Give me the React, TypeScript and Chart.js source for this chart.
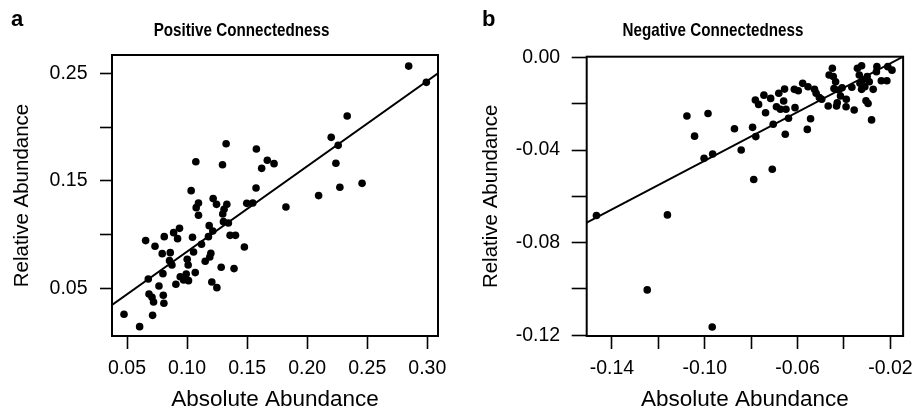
import React, { useEffect, useRef } from "react";
import { Chart, registerables } from "chart.js";

Chart.register(...registerables);

// ---------- Panel a: Positive Connectedness ----------
const posAbsolute = [
  0.2845, 0.2992, 0.2333, 0.22, 0.2258, 0.2239, 0.2272, 0.2457, 0.2095, 0.1823,
  0.1325, 0.1577, 0.1073, 0.1295, 0.1668, 0.1724, 0.1621, 0.1574, 0.1497, 0.1547,
  0.1034, 0.1217, 0.1245, 0.1095, 0.1076, 0.1095, 0.1331, 0.1308, 0.1297, 0.1303,
  0.1344, 0.1184, 0.1214, 0.1178, 0.112, 0.1054, 0.1045, 0.1358, 0.1403, 0.1477,
  0.1391, 0.1284, 0.1198, 0.1189, 0.1151, 0.1206, 0.1248, 0.1001, 0.1009, 0.1068,
  0.0993, 0.0943, 0.0971, 0.1012, 0.0907, 0.0937, 0.0888, 0.0921, 0.081, 0.0733,
  0.0655, 0.0793, 0.086, 0.0854, 0.0874, 0.0799, 0.0677, 0.0766, 0.0683, 0.0708,
  0.0721, 0.0802, 0.0807, 0.0713, 0.0475, 0.0605,
];
const posRelative = [
  0.2567, 0.2416, 0.2103, 0.1905, 0.1831, 0.1664, 0.1441, 0.1478, 0.1364, 0.1258,
  0.1846, 0.1797, 0.1679, 0.1651, 0.1692, 0.1661, 0.1617, 0.1435, 0.1292, 0.1295,
  0.141, 0.1336, 0.1283, 0.1295, 0.1252, 0.1181, 0.1283, 0.1237, 0.1193, 0.1122,
  0.111, 0.1085, 0.1035, 0.0983, 0.0912, 0.084, 0.0977, 0.0995, 0.0995, 0.0887,
  0.0686, 0.0698, 0.0828, 0.0794, 0.0754, 0.0562, 0.0509, 0.0772, 0.072, 0.0649,
  0.0636, 0.0611, 0.058, 0.0574, 0.054, 0.106, 0.102, 0.0964, 0.0983, 0.0893,
  0.0946, 0.0825, 0.0834, 0.076, 0.072, 0.0639, 0.059, 0.0525, 0.045, 0.042,
  0.0376, 0.0438, 0.0364, 0.0252, 0.0262, 0.0147,
];
const posFit = { intercept: 0.0052, slope: 0.7926 };
const posXRange = [0.0375, 0.3089];
const posYRange = [0.006, 0.267];
const posXTicks = [0.05, 0.1, 0.15, 0.2, 0.25, 0.3];
const posXLabels = ["0.05", "0.10", "0.15", "0.20", "0.25", "0.30"];
const posYTicks = [0.05, 0.1, 0.15, 0.2, 0.25];
const posYLabels = ["0.05", "", "0.15", "", "0.25"];

// ---------- Panel b: Negative Connectedness ----------
const negAbsolute = [
  -0.1467, -0.1248, -0.0968, -0.1161, -0.1077, -0.0986, -0.1044, -0.1003, -0.0966, -0.0872,
  -0.0843, -0.0794, -0.078, -0.0789, -0.0709, -0.0782, -0.0768, -0.0745, -0.0716, -0.0738,
  -0.0705, -0.0681, -0.0656, -0.066, -0.0691, -0.0674, -0.065, -0.0639, -0.0653, -0.0611,
  -0.0614, -0.0597, -0.0578, -0.0555, -0.0558, -0.0544, -0.0527, -0.052, -0.0506, -0.0496,
  -0.0468, -0.0464, -0.045, -0.0446, -0.0436, -0.0443, -0.0422, -0.0408, -0.0415, -0.0429,
  -0.0432, -0.039, -0.0391, -0.0366, -0.0356, -0.0331, -0.0342, -0.0324, -0.0334, -0.032,
  -0.0324, -0.031, -0.03, -0.0291, -0.0274, -0.0305, -0.0296, -0.0281, -0.0258, -0.026,
  -0.0239, -0.0215, -0.0193, -0.0211,
];
const negRelative = [
  -0.0683, -0.1004, -0.1164, -0.068, -0.0253, -0.0242, -0.034, -0.0436, -0.0417, -0.0308,
  -0.04, -0.0302, -0.0342, -0.0527, -0.0483, -0.0184, -0.0203, -0.0163, -0.0177, -0.0239,
  -0.0289, -0.0155, -0.0137, -0.0188, -0.0213, -0.0224, -0.0224, -0.0263, -0.0332, -0.0217,
  -0.0138, -0.0144, -0.0112, -0.0127, -0.0311, -0.0265, -0.0138, -0.0155, -0.0173, -0.0181,
  -0.021, -0.0076, -0.0047, -0.0083, -0.0105, -0.0134, -0.0141, -0.0131, -0.0167, -0.0196,
  -0.021, -0.0181, -0.0213, -0.0129, -0.0227, -0.0112, -0.0047, -0.0036, -0.0076, -0.0098,
  -0.0138, -0.0127, -0.0083, -0.0105, -0.0138, -0.0187, -0.0199, -0.027, -0.004, -0.0062,
  -0.0101, -0.0101, -0.0055, -0.004,
];
const negFit = { intercept: 0.0079, slope: 0.525 };
const negXRange = [-0.1509, -0.0145];
const negYRange = [-0.1203, 0.0003];
const negXTicks = [-0.14, -0.12, -0.1, -0.08, -0.06, -0.04, -0.02];
const negXLabels = ["-0.14", "", "-0.10", "", "-0.06", "", "-0.02"];
const negYTicks = [-0.12, -0.1, -0.08, -0.06, -0.04, -0.02, 0];
const negYLabels = ["-0.12", "", "-0.08", "", "-0.04", "", "0.00"];

const FONT = "'Liberation Sans', Arial, Helvetica, sans-serif";

type PanelCfg = {
  xs: number[];
  ys: number[];
  fit: { intercept: number; slope: number };
  xRange: number[];
  yRange: number[];
  xTicks: number[];
  xLabels: string[];
  yTicks: number[];
  yLabels: string[];
  title: string;
  titleX: number;
  letter: string;
  letterX: number;
  yWidth: number;
  padRight: number;
  padTop: number;
  yTickLen: number;
  yTickPad: number;
  yTitlePad: number;
};

function makeChart(canvas: HTMLCanvasElement, p: PanelCfg) {
  const pts = p.xs.map((x, i) => ({ x, y: p.ys[i] }));
  const fitLine = p.xRange.map((x) => ({ x, y: p.fit.intercept + p.fit.slope * x }));

  const textPlugin = {
    id: "panelText",
    afterDraw(chart: any) {
      const ctx = chart.ctx;
      ctx.save();
      ctx.fillStyle = "#000";
      ctx.textBaseline = "middle";
      ctx.textAlign = "center";
      // condensed bold title (horizontally compressed)
      ctx.save();
      const sx = 0.8;
      ctx.scale(sx, 1);
      ctx.font = `bold 19px ${FONT}`;
      ctx.fillText(p.title, p.titleX / sx, 31);
      ctx.restore();
      ctx.textAlign = "left";
      ctx.font = `bold 22px ${FONT}`;
      ctx.fillText(p.letter, p.letterX, 20);
      // plot box
      const a = chart.chartArea;
      ctx.strokeStyle = "#000";
      ctx.lineWidth = 2;
      ctx.strokeRect(a.left, a.top, a.right - a.left, a.bottom - a.top);
      ctx.restore();
    },
  };

  return new Chart(canvas, {
    type: "scatter",
    data: {
      datasets: [
        {
          data: pts,
          backgroundColor: "#000",
          borderWidth: 0,
          pointRadius: 3.8,
          pointHoverRadius: 3.8,
        },
        {
          data: fitLine,
          showLine: true,
          borderColor: "#000",
          borderWidth: 2,
          pointRadius: 0,
          pointHoverRadius: 0,
        },
      ],
    },
    options: {
      animation: false,
      responsive: false,
      devicePixelRatio: 1,
      layout: { padding: { left: 0, right: p.padRight, top: p.padTop, bottom: 0 } },
      plugins: { legend: { display: false }, tooltip: { enabled: false }, title: { display: false } },
      scales: {
        x: {
          type: "linear",
          min: p.xRange[0],
          max: p.xRange[1],
          afterBuildTicks: (s: any) => {
            s.ticks = p.xTicks.map((v) => ({ value: v }));
          },
          afterFit: (s: any) => {
            s.height = 78;
          },
          border: { display: false },
          grid: {
            drawOnChartArea: false,
            drawTicks: true,
            tickLength: 13,
            tickWidth: 1.6,
            tickColor: "#000",
          },
          ticks: {
            color: "#000",
            padding: 8,
            maxRotation: 0,
            autoSkip: false,
            font: { family: FONT, size: 19.5 },
            callback: (v: any) => {
              const i = p.xTicks.findIndex((t) => Math.abs(t - Number(v)) < 1e-9);
              return i >= 0 ? p.xLabels[i] : "";
            },
          },
          title: {
            display: true,
            text: "Absolute Abundance",
            color: "#000",
            font: { family: FONT, size: 22.5 },
            padding: { top: 0, bottom: 1 },
          },
        },
        y: {
          type: "linear",
          min: p.yRange[0],
          max: p.yRange[1],
          afterBuildTicks: (s: any) => {
            s.ticks = p.yTicks.map((v) => ({ value: v }));
          },
          afterFit: (s: any) => {
            s.width = p.yWidth;
          },
          border: { display: false },
          grid: {
            drawOnChartArea: false,
            drawTicks: true,
            tickLength: p.yTickLen,
            tickWidth: 1.6,
            tickColor: "#000",
          },
          ticks: {
            color: "#000",
            padding: p.yTickPad,
            autoSkip: false,
            font: { family: FONT, size: 19.5 },
            callback: (v: any) => {
              const i = p.yTicks.findIndex((t) => Math.abs(t - Number(v)) < 1e-9);
              return i >= 0 ? p.yLabels[i] : "";
            },
          },
          title: {
            display: true,
            text: "Relative Abundance",
            color: "#000",
            font: { family: FONT, size: 20.5 },
            padding: { top: p.yTitlePad, bottom: 0 },
          },
        },
      },
    },
    plugins: [textPlugin],
  } as any);
}

export default function App() {
  const refA = useRef<HTMLCanvasElement>(null);
  const refB = useRef<HTMLCanvasElement>(null);

  useEffect(() => {
    const a = makeChart(refA.current!, {
      xs: posAbsolute,
      ys: posRelative,
      fit: posFit,
      xRange: posXRange,
      yRange: posYRange,
      xTicks: posXTicks,
      xLabels: posXLabels,
      yTicks: posYTicks,
      yLabels: posYLabels,
      title: "Positive Connectedness",
      titleX: 241.5,
      letter: "a",
      letterX: 11,
      yWidth: 112,
      padRight: 22,
      padTop: 55,
      yTickLen: 12,
      yTickPad: 12.5,
      yTitlePad: 10.5,
    });
    const b = makeChart(refB.current!, {
      xs: negAbsolute,
      ys: negRelative,
      fit: negFit,
      xRange: negXRange,
      yRange: negYRange,
      xTicks: negXTicks,
      xLabels: negXLabels,
      yTicks: negYTicks,
      yLabels: negYLabels,
      title: "Negative Connectedness",
      titleX: 713 - 460,
      letter: "b",
      letterX: 482 - 460,
      yWidth: 126.7,
      padRight: 10.3,
      padTop: 56.7,
      yTickLen: 15,
      yTickPad: 11.5,
      yTitlePad: 19,
    });
    return () => {
      a.destroy();
      b.destroy();
    };
  }, []);

  return (
    <div style={{ position: "absolute", left: 0, top: 0, width: 921, height: 414, background: "#fff" }}>
      <canvas ref={refA} width={460} height={414} style={{ position: "absolute", left: 0, top: 0 }} />
      <canvas ref={refB} width={461} height={414} style={{ position: "absolute", left: 460, top: 0 }} />
    </div>
  );
}
